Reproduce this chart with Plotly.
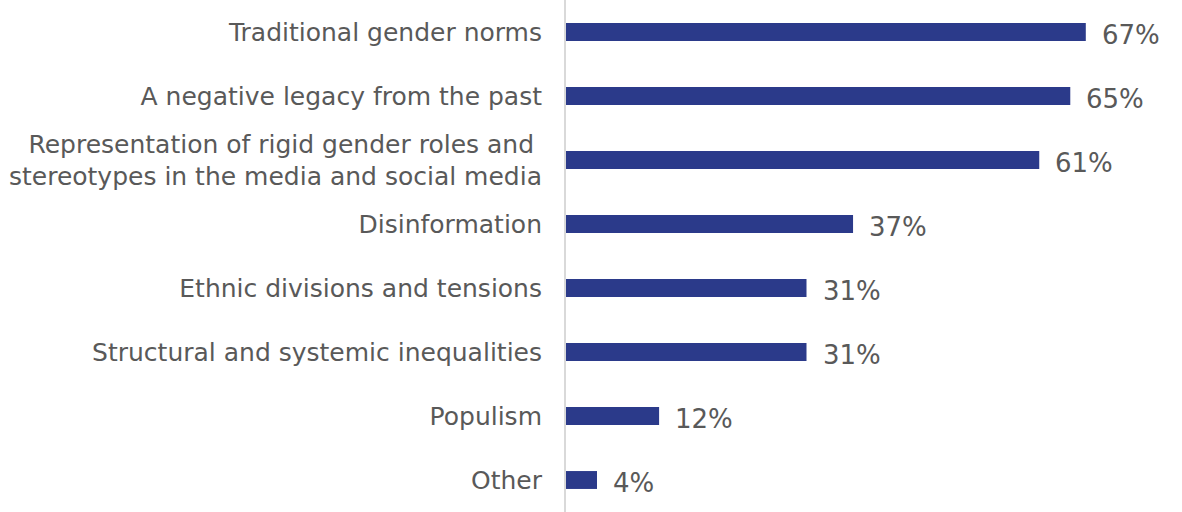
import plotly.graph_objects as go

categories = [
    "Traditional gender norms",
    "A negative legacy from the past",
    "Representation of rigid gender roles and <br>stereotypes in the media and social media",
    "Disinformation",
    "Ethnic divisions and tensions",
    "Structural and systemic inequalities",
    "Populism",
    "Other",
]
values = [67, 65, 61, 37, 31, 31, 12, 4]
value_labels = ["67%", "65%", "61%", "37%", "31%", "31%", "12%", "4%"]

BAR_COLOR = "#2B3A8A"
TEXT_COLOR = "#595959"
FONT = "DejaVu Sans"

fig = go.Figure(
    go.Bar(
        x=values,
        y=categories,
        orientation="h",
        marker=dict(color=BAR_COLOR, line=dict(width=0)),
        width=0.28,
        hoverinfo="skip",
    )
)

for cat, val, lab in zip(categories, values, value_labels):
    fig.add_annotation(
        x=val, y=cat, text=lab, showarrow=False,
        xanchor="left", yanchor="middle", xshift=14, yshift=-3,
        font=dict(family=FONT, size=26, color=TEXT_COLOR),
    )

fig.update_layout(
    width=1182, height=512,
    margin=dict(l=566, r=0, t=0, b=0),
    paper_bgcolor="white", plot_bgcolor="white",
    showlegend=False,
    font=dict(family=FONT, size=25, color=TEXT_COLOR),
    xaxis=dict(range=[0, 79.4], visible=False, fixedrange=True),
    yaxis=dict(
        autorange="reversed",
        showline=True, linecolor="#D9D9D9", linewidth=2,
        showgrid=False, zeroline=False,
        ticks="", ticklabelstandoff=17,
        tickfont=dict(family=FONT, size=25, color=TEXT_COLOR),
        fixedrange=True,
    ),
)

fig.write_html("out.html")
